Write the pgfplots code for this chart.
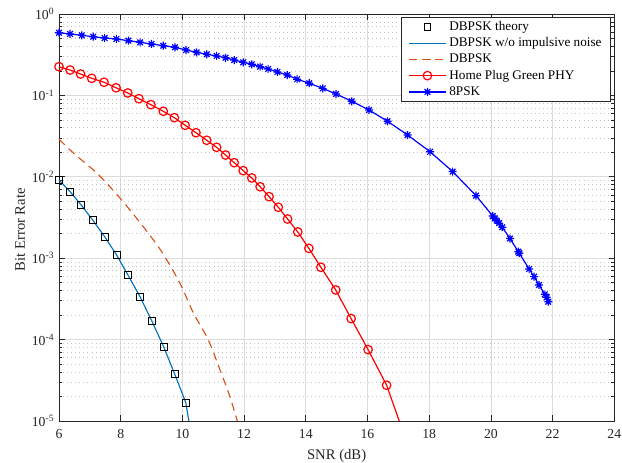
\documentclass[border=0pt]{standalone}
\usepackage{fontspec}
\setmainfont{Liberation Serif}
\usepackage{pgfplots}
\pgfplotsset{compat=1.18}

\definecolor{mblue}{rgb}{0,0.447,0.741}
\definecolor{morange}{rgb}{0.85,0.325,0.098}
\definecolor{axgray}{rgb}{0.15,0.15,0.15}
\definecolor{gridgray}{rgb}{0.86,0.86,0.86}
\definecolor{minorgray}{rgb}{0.76,0.76,0.76}

\pgfdeclareplotmark{mstar}{%
  \pgfpathmoveto{\pgfqpoint{-\pgfplotmarksize}{0pt}}%
  \pgfpathlineto{\pgfqpoint{\pgfplotmarksize}{0pt}}%
  \pgfpathmoveto{\pgfqpoint{0pt}{-\pgfplotmarksize}}%
  \pgfpathlineto{\pgfqpoint{0pt}{\pgfplotmarksize}}%
  \pgfpathmoveto{\pgfqpoint{-0.707\pgfplotmarksize}{-0.707\pgfplotmarksize}}%
  \pgfpathlineto{\pgfqpoint{0.707\pgfplotmarksize}{0.707\pgfplotmarksize}}%
  \pgfpathmoveto{\pgfqpoint{-0.707\pgfplotmarksize}{0.707\pgfplotmarksize}}%
  \pgfpathlineto{\pgfqpoint{0.707\pgfplotmarksize}{-0.707\pgfplotmarksize}}%
  \pgfusepathqstroke}

\begin{document}
\begin{tikzpicture}
\path[use as bounding box] (-44.25pt,-31.5pt) rectangle (422.3pt,315.75pt);
\begin{axis}[
  at={(0pt,0pt)}, anchor=south west,
  scale only axis, width=416.5pt, height=305.25pt,
  xmin=6, xmax=24, ymode=log, ymin=1e-5, ymax=1,
  clip=false,
  xtick={6,8,...,24},
  ytick={1e-5,1e-4,1e-3,1e-2,1e-1,1},
  yticklabels={10\textsuperscript{-5},10\textsuperscript{-4},10\textsuperscript{-3},10\textsuperscript{-2},10\textsuperscript{-1},10\textsuperscript{0}},
  xmajorgrids, ymajorgrids, yminorgrids,
  major grid style={gridgray, line width=0.55pt},
  minor grid style={minorgray, dash pattern=on 0.45pt off 2.6pt, line width=0.45pt},
  tick align=inside,
  axis line style={axgray, line width=0.6pt},
  major tick length=4.2pt, minor tick length=2.2pt,
  every tick/.style={axgray, line width=0.5pt},
  ticklabel style={font=\fontsize{10.3}{12}\selectfont, text=axgray},
  xticklabel style={yshift=-3pt},
  /pgf/number format/assume math mode=true,
  xlabel={SNR (dB)}, ylabel={Bit Error Rate},
  label style={font=\fontsize{11}{13}\selectfont, text=axgray},
  xlabel style={at={(axis description cs:0.5,0)}, anchor=center, yshift=-26.5pt},
  ylabel style={at={([xshift=-29.25pt]axis description cs:0,0.47)}, anchor=center},
  legend style={at={(rel axis cs:0.994,0.9934)}, anchor=north east,
    font=\fontsize{9.9}{11}\selectfont, draw=axgray, line width=0.5pt,
    inner xsep=4.8pt, inner ysep=1pt, row sep=0pt},
  legend cell align=left,
  legend image code/.code={\draw[mark repeat=2,mark phase=2,#1] plot coordinates {(0pt,0pt) (14pt,0pt) (28pt,0pt)};},
]
\addplot[only marks, mark=square, mark size=2.6pt, black, line width=0.65pt] coordinates {
(6.00,0.00914) (6.36,0.00656) (6.72,0.00450) (7.09,0.00295) (7.48,0.00184) (7.87,0.00109)
(8.24,0.000617) (8.63,0.000334) (9.01,0.000169) (9.39,8.2e-5) (9.75,3.78e-5) (10.11,1.68e-5)
};
\addlegendentry{DBPSK theory}
\addplot[mblue, line width=0.85pt, no marks] coordinates {
(6.00,0.00914) (6.36,0.00656) (6.72,0.00450) (7.09,0.00295) (7.48,0.00184) (7.87,0.00109)
(8.24,0.000617) (8.63,0.000334) (9.01,0.000169) (9.39,8.2e-5) (9.75,3.78e-5) (10.11,1.68e-5) (10.21,1e-5)
};
\addlegendentry{DBPSK w/o impulsive noise}
\addplot[morange, line width=0.85pt, no marks, dash pattern=on 6pt off 4pt, smooth] coordinates {
(6.00,0.0289) (6.52,0.0188) (7.27,0.0107) (8.03,0.00519) (8.73,0.00244) (9.33,0.00120)
(9.92,0.000492) (10.35,0.000215) (10.84,9.9e-5) (11.22,4.23e-5) (11.54,1.99e-5) (11.78,1e-5)
};
\addlegendentry{DBPSK}
\addplot[red, line width=0.9pt, mark=o, mark size=3.2pt] coordinates {
(6.00,0.225) (6.36,0.205) (6.70,0.183) (7.06,0.162) (7.46,0.145) (7.85,0.124) (8.23,0.107)
(8.59,0.0911) (8.98,0.0769) (9.38,0.0638) (9.74,0.0532) (10.09,0.0429) (10.44,0.0348)
(10.79,0.0281) (11.11,0.0230) (11.40,0.0185) (11.68,0.0149) (11.97,0.0119) (12.25,0.00967)
(12.52,0.00755) (12.81,0.00570) (13.11,0.00422) (13.41,0.00303) (13.74,0.00210) (14.10,0.00132)
(14.49,0.000773) (14.97,0.000407) (15.47,0.000181) (16.02,7.52e-5) (16.62,2.75e-5)
};
\addlegendentry{Home Plug Green PHY}
\addplot[blue, line width=0.9pt, mark=mstar, mark size=3pt] coordinates {
(6.00,0.589) (6.36,0.568) (6.74,0.547) (7.11,0.526) (7.48,0.507) (7.86,0.493) (8.25,0.470)
(8.63,0.449) (9.00,0.428) (9.38,0.408) (9.76,0.390) (10.12,0.361) (10.46,0.338) (10.79,0.320)
(11.11,0.305) (11.40,0.290) (11.68,0.272) (11.97,0.255) (12.25,0.241) (12.52,0.225) (12.78,0.211)
(13.08,0.194) (13.40,0.178) (13.72,0.158) (14.11,0.141) (14.55,0.122) (14.98,0.104) (15.49,0.0847)
(16.05,0.0662) (16.65,0.0481) (17.30,0.0326) (18.03,0.0203) (18.76,0.0116) (19.52,0.00586)
(20.06,0.00330) (20.13,0.00309) (20.19,0.00289) (20.27,0.00269) (20.37,0.00240) (20.62,0.00174)
(20.89,0.00120) (20.92,0.00115) (21.24,0.000736) (21.40,0.000593) (21.56,0.000469) (21.75,0.000360)
(21.81,0.000331) (21.86,0.000292)
};
\addlegendentry{8PSK}
\addplot[red, line width=0.9pt, no marks, forget plot] coordinates {(16.62,2.75e-5) (17.03,1e-5)};
\end{axis}
\end{tikzpicture}
\end{document}
